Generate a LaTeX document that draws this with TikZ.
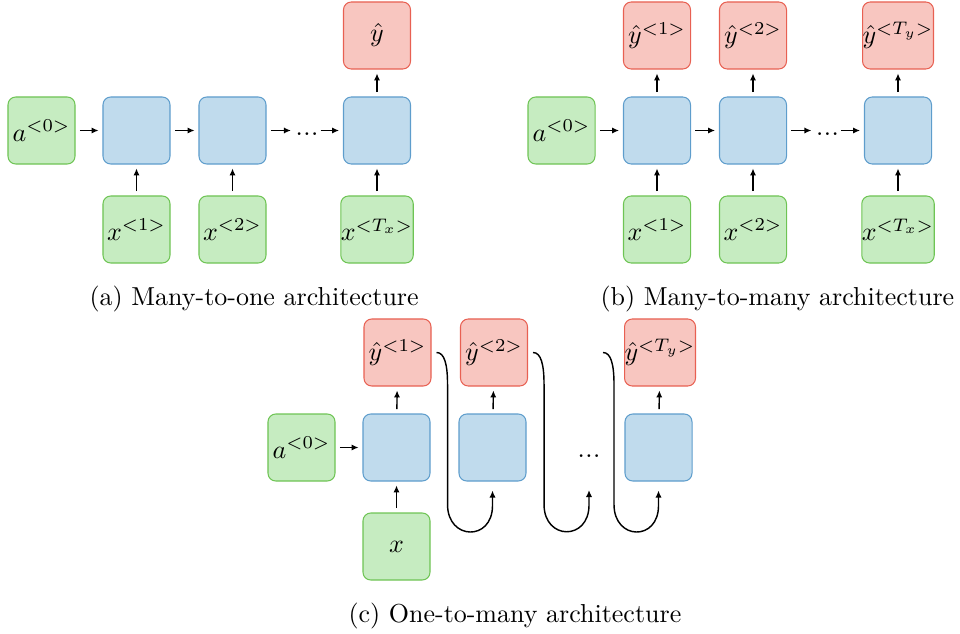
\documentclass[tikz,border=0pt]{standalone}
\usetikzlibrary{arrows.meta,calc}
\definecolor{gfill}{RGB}{198,236,193}
\definecolor{gdraw}{RGB}{110,196,84}
\definecolor{bfill}{RGB}{192,219,237}
\definecolor{bdraw}{RGB}{94,157,204}
\definecolor{rfill}{RGB}{248,198,192}
\definecolor{rdraw}{RGB}{232,96,82}
\tikzset{
 box/.style={rectangle, rounded corners=3pt, minimum width=25.8pt, minimum height=25.8pt, inner sep=0pt, line width=0.4pt},
 gbox/.style={box, fill=gfill, draw=gdraw},
 bbox/.style={box, fill=bfill, draw=bdraw},
 rbox/.style={box, fill=rfill, draw=rdraw},
 arr/.style={-{Latex[length=2.7pt,width=2.4pt]}, line width=0.55pt, shorten <=1.7pt, shorten >=1.5pt},
 curvearr/.style={-{Latex[length=2.7pt,width=2.4pt]}, line width=0.55pt},
 dotsnode/.style={inner sep=0pt, font=\fontsize{11}{13}\selectfont},
 captext/.style={anchor=base west, inner sep=0pt},
}
\begin{document}
\begin{tikzpicture}[x=0.385pt,y=-0.385pt]
\useasboundingbox (0,0) rectangle (960,633);

% ---------- (a) ----------
\node[gbox] (aa0) at (41.5,130.5) {$a^{<0>}$};
\node[bbox] (ab1) at (136.5,130.5) {};
\node[bbox] (ab2) at (232.5,130.5) {};
\node[bbox] (ab3) at (377,130.5) {};
\node[rbox] (ay) at (377,35.5) {$\hat{y}$};
\node[gbox] (ax1) at (136.5,229.5) {$x^{<1>}$};
\node[gbox] (ax2) at (232.5,229.5) {$x^{<2>}$};
\node[gbox] (axT) at (377,229.5) {$x^{<T_x>}$};
\node[dotsnode] (ad) at (307,134) {...};
\draw[arr] (aa0) -- (ab1);
\draw[arr] (ab1) -- (ab2);
\draw[arr] (ab2.east) -- (ad.west |- ab2.east);
\draw[arr, shorten <=0.6pt] (ad.east |- ab3.west) -- (ab3.west);
\draw[arr] (ax1) -- (ab1);
\draw[arr] (ax2) -- (ab2);
\draw[arr] (axT) -- (ab3);
\draw[arr] (ab3) -- (ay);
\node[captext] (capa) at (89,305) {(a) Many-to-one architecture};

% ---------- (b) ----------
\node[gbox] (ba0) at (561.5,130.5) {$a^{<0>}$};
\node[bbox] (bb1) at (657,130.5) {};
\node[bbox] (bb2) at (753,130.5) {};
\node[bbox] (bb3) at (898,130.5) {};
\node[rbox] (by1) at (657,35.5) {$\hat{y}^{<1>}$};
\node[rbox] (by2) at (753,35.5) {$\hat{y}^{<2>}$};
\node[rbox] (byT) at (898,35.5) {$\hat{y}^{<T_y>}$};
\node[gbox] (bx1) at (657,229.5) {$x^{<1>}$};
\node[gbox] (bx2) at (753,229.5) {$x^{<2>}$};
\node[gbox] (bxT) at (898,229.5) {$x^{<T_x>}$};
\node[dotsnode] (bd) at (827.5,134) {...};
\draw[arr] (ba0) -- (bb1);
\draw[arr] (bb1) -- (bb2);
\draw[arr] (bb2.east) -- (bd.west |- bb2.east);
\draw[arr, shorten <=0.6pt] (bd.east |- bb3.west) -- (bb3.west);
\draw[arr] (bx1) -- (bb1);
\draw[arr] (bx2) -- (bb2);
\draw[arr] (bxT) -- (bb3);
\draw[arr] (bb1) -- (by1);
\draw[arr] (bb2) -- (by2);
\draw[arr] (bb3) -- (byT);
\node[captext] (capb) at (600,305) {(b) Many-to-many architecture};

% ---------- (c) ----------
\node[gbox] (ca0) at (301.5,447.5) {$a^{<0>}$};
\node[bbox] (cb1) at (396.5,447.5) {};
\node[bbox] (cb2) at (492.5,447.5) {};
\node[bbox] (cb3) at (658.5,447.5) {};
\node[rbox] (cy1) at (397.5,352.5) {$\hat{y}^{<1>}$};
\node[rbox] (cy2) at (494,352.5) {$\hat{y}^{<2>}$};
\node[rbox] (cyT) at (660,352.5) {$\hat{y}^{<T_y>}$};
\node[gbox] (cx) at (396.5,546.5) {$x$};
\node[dotsnode] (cd) at (589,456) {...};
\draw[arr] (ca0) -- (cb1);
\draw[arr] (cx) -- (cb1);
\draw[arr] (cb1) -- (cy1);
\draw[arr] (cb2) -- (cy2);
\draw[arr] (cb3) -- (cyT);

\coordinate (s1) at ($(cy1.east)+(5,0)$);
\coordinate (e1) at ($(cb2.south)+(0,9)$);
\coordinate (s2) at ($(cy2.east)+(5,0)$);
\coordinate (e2) at (589,490);
\coordinate (s3) at (603,352.5);
\coordinate (e3) at ($(cb3.south)+(0,9)$);

\draw[curvearr] (s1) .. controls ($(s1)+(8,0)$) and ($(s1)+(11,12)$) .. ($(s1)+(11,32)$)
  -- ($(s1)+(11,152)$) .. controls ($(s1)+(11,188)$) and ($(e1)+(0,51)$) .. ($(e1)+(0,15)$) -- (e1);
\draw[curvearr] (s2) .. controls ($(s2)+(8,0)$) and ($(s2)+(11,12)$) .. ($(s2)+(11,32)$)
  -- ($(s2)+(11,152)$) .. controls ($(s2)+(11,188)$) and ($(e2)+(0,51)$) .. ($(e2)+(0,15)$) -- (e2);
\draw[curvearr] (s3) .. controls ($(s3)+(8,0)$) and ($(s3)+(11,12)$) .. ($(s3)+(11,32)$)
  -- ($(s3)+(11,152)$) .. controls ($(s3)+(11,188)$) and ($(e3)+(0,51)$) .. ($(e3)+(0,15)$) -- (e3);

\node[captext] (capc) at (348,622) {(c) One-to-many architecture};
\end{tikzpicture}
\end{document}
